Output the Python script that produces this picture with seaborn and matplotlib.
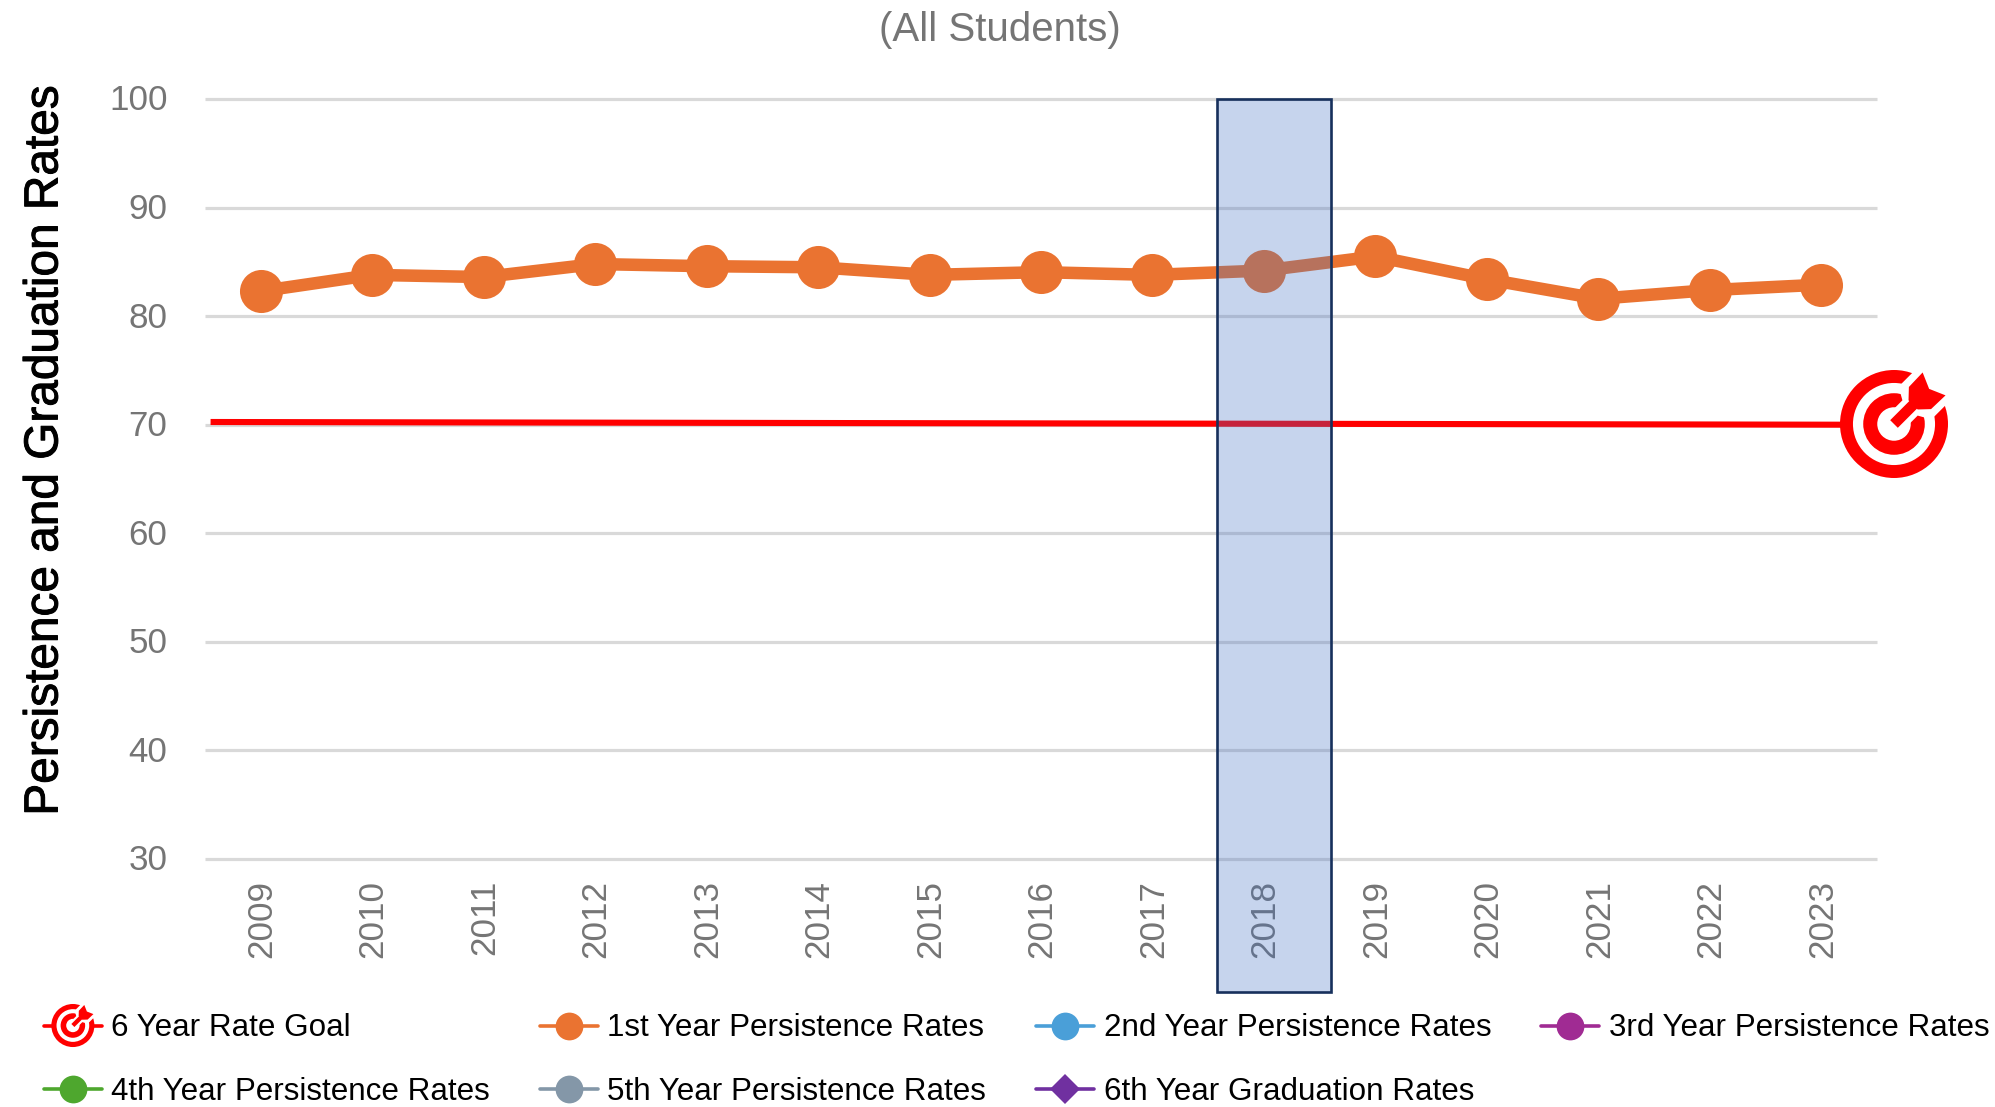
import numpy as np
import pandas as pd
import matplotlib
matplotlib.use("Agg")
import matplotlib.pyplot as plt
import matplotlib.patheffects as pe
import seaborn as sns
from matplotlib import font_manager as fm
from matplotlib.legend_handler import HandlerBase
from matplotlib.lines import Line2D
from matplotlib.patches import Circle, Polygon, Rectangle
from matplotlib.transforms import Affine2D

years = [2009, 2010, 2011, 2012, 2013, 2014, 2015, 2016, 2017, 2018, 2019, 2020, 2021, 2022, 2023]
first_year = [82.3, 83.8, 83.6, 84.8, 84.6, 84.5, 83.8, 84.05, 83.8, 84.2, 85.5, 83.4, 81.6, 82.4, 82.9]
goal_positions = [-0.45, 14.2]
goal_values = [70.25, 70.0]
yticks = [30, 40, 50, 60, 70, 80, 90, 100]
title = "(All Students)"
ylabel = "Persistence and Graduation Rates"
highlight_span = [8.58, 9.6]
highlight_y = [17.75, 100]

sns.set_theme(style="white")
plt.rcParams["font.family"] = ["Liberation Sans", "DejaVu Sans"]
W, H = 1995, 1107
fig = plt.figure(figsize=(W / 100, H / 100), dpi=100)
ax = fig.add_axes([205 / W, 1 - 859 / H, (1877 - 205) / W, (859 - 99) / H])

df = pd.DataFrame({"pos": np.arange(len(years)), "rate": first_year})
sns.lineplot(data=df, x="pos", y="rate", ax=ax, color="#EA7331", linewidth=9,
             marker="o", markersize=31, markeredgewidth=0, legend=False, zorder=3)
ax.plot(goal_positions, goal_values, color="#FF0000", lw=4.4, solid_capstyle="butt", zorder=4, clip_on=False)

ax.set_xlim(-0.5, 14.5)
ax.set_ylim(30, 100)
ax.set_yticks(yticks)
ax.set_xticks(df["pos"], [str(y) for y in years], rotation=90)
ax.tick_params(axis="both", length=0, labelsize=25.2, labelcolor="#757575")
ax.tick_params(axis="y", pad=27)
ax.tick_params(axis="x", pad=15)
for lab in ax.get_xticklabels():
    lab.set_transform(lab.get_transform() + Affine2D().translate(1, 0))
for lab in ax.get_yticklabels():
    lab.set_transform(lab.get_transform() + Affine2D().translate(0, 1.5))
ax.grid(axis="y", color="#D9D9D9", lw=2.3, zorder=0)
ax.grid(axis="x", visible=False)
for gl in ax.get_ygridlines():
    gl.set_clip_on(False)
    gl.set_solid_capstyle("butt")
ax.set_axisbelow(True)
for s in ax.spines.values():
    s.set_visible(False)
ax.set_xlabel("")
ax.set_ylabel("")

ax.add_patch(Rectangle((highlight_span[0], highlight_y[0]),
                       highlight_span[1] - highlight_span[0], highlight_y[1] - highlight_y[0],
                       facecolor=(0x44 / 255, 0x72 / 255, 0xC4 / 255, 0.3),
                       edgecolor="#17305C", lw=1.9, clip_on=False, zorder=5))

fig.text(1000 / W, 1 - 30 / H, title, ha="center", va="center", fontsize=29, color="#757575")
yl = fig.text(45 / W, 1 - 451 / H, ylabel, ha="center", va="center", rotation=90, fontsize=34.4, color="black")
yl.set_path_effects([pe.withStroke(linewidth=0.7, foreground="black")])


def target_artists(cx, cy, r, trans):
    """Bullseye icon; y grows upward in the given transform."""
    arts = []
    for frac, col in [(1.0, "#FF0000"), (0.76, "white"), (0.57, "#FF0000"), (0.31, "white")]:
        arts.append(Circle((cx, cy), r * frac, fc=col, ec="none", transform=trans))
    rot = Affine2D().rotate_deg(45).scale(r).translate(cx, cy) + trans
    white = Polygon([(0, -0.2), (0.42, -0.2), (0.55, -0.43), (1.35, -0.43), (1.35, 0.43), (0.55, 0.43), (0.42, 0.2), (0, 0.2)],
                    fc="white", ec="none", transform=rot)
    shaft = Polygon([(0, -0.1), (0.6, -0.1), (0.6, 0.1), (0, 0.1)], fc="#FF0000", ec="none", transform=rot)
    head = Polygon([(0.5, -0.12), (0.68, -0.29), (1.05, -0.3), (0.92, 0), (1.05, 0.3), (0.68, 0.29), (0.5, 0.12)],
                   fc="#FF0000", ec="none", transform=rot)
    return arts + [white, shaft, head]


ov = fig.add_axes([0, 0, 1, 1], zorder=10)
ov.set_xlim(0, W)
ov.set_ylim(H, 0)
ov.axis("off")
ov.patch.set_alpha(0)
pix = Affine2D().scale(1, -1) + ov.transData
for a in target_artists(1894, -424, 54, pix):
    ov.add_artist(a)


class GoalHandler(HandlerBase):
    def create_artists(self, legend, orig, xd, yd, width, height, fontsize, trans):
        cy = height / 2 - yd
        cx = width / 2 - xd
        line = Line2D([-xd, width - xd], [cy, cy], color="#FF0000", lw=2.6, transform=trans)
        return [line] + target_artists(cx, cy, 15.5, trans)


names = ["6 Year Rate Goal", "4th Year Persistence Rates",
         "1st Year Persistence Rates", "5th Year Persistence Rates",
         "2nd Year Persistence Rates", "6th Year Graduation Rates",
         "3rd Year Persistence Rates"]
colors = ["#FF0000", "#4EA72E", "#EA7331", "#8497A8", "#4A9FD8", "#7030A0", "#A02B93"]
markers = ["o", "o", "o", "o", "o", "D", "o"]
handles = [Line2D([], [], color=c, lw=2.6, marker=m, markersize=(15 if m == "D" else 20), markeredgewidth=0)
           for c, m in zip(colors, markers)]
prop = fm.FontProperties(family=["Liberation Sans", "DejaVu Sans"], size=22.6)
leg = fig.legend(handles, names, ncol=4, loc="upper left", bbox_to_anchor=(44 / W, 1 - 1013.5 / H),
                 frameon=False, prop=prop, borderpad=0, borderaxespad=0, handlelength=1.84,
                 handletextpad=0.3, columnspacing=1.6, labelspacing=1.08, labelcolor="black",
                 handler_map={handles[0]: GoalHandler()})
fig.savefig("out.png", dpi=100, facecolor="white")
